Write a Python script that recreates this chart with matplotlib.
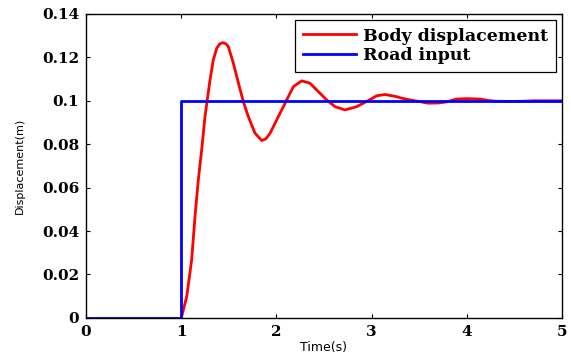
import matplotlib
matplotlib.use("Agg")
import matplotlib.pyplot as plt
from matplotlib.font_manager import FontProperties
from matplotlib.ticker import FuncFormatter

# Road input: unit step of 0.1 m at t = 1 s
road_t = [0, 1, 1, 5]
road_y = [0, 0, 0.1, 0.1]

# Body displacement
body_t = [1.00, 1.005, 1.058, 1.110, 1.145, 1.180, 1.215, 1.250, 1.274, 1.303,
          1.337, 1.373, 1.405, 1.436, 1.470, 1.495, 1.548, 1.611, 1.653, 1.705,
          1.775, 1.846, 1.890, 1.933, 2.003, 2.073, 2.108, 2.178, 2.266, 2.353,
          2.458, 2.528, 2.616, 2.721, 2.843, 2.965, 3.053, 3.141, 3.264, 3.316,
          3.403, 3.508, 3.596, 3.700, 3.790, 3.890, 4.000, 4.140, 4.230, 4.310,
          4.450, 4.590, 4.700, 5.00]
body_y = [0.0, 0.0006, 0.0098, 0.0267, 0.0467, 0.0636, 0.0774, 0.0927, 0.1004, 0.1096,
          0.1188, 0.1242, 0.1262, 0.1268, 0.1263, 0.1250, 0.1173, 0.1065, 0.0996, 0.0927,
          0.0851, 0.0817, 0.0825, 0.0850, 0.0912, 0.0973, 0.1004, 0.1065, 0.1092, 0.1081,
          0.1035, 0.1004, 0.0973, 0.0958, 0.0973, 0.1001, 0.1023, 0.1029, 0.1019, 0.1012,
          0.1004, 0.0996, 0.0989, 0.0990, 0.0995, 0.1008, 0.1010, 0.1008, 0.1001, 0.0998,
          0.0997, 0.0998, 0.1000, 0.1000]

xticks = [0, 1, 2, 3, 4, 5]
yticks = [0, 0.02, 0.04, 0.06, 0.08, 0.1, 0.12, 0.14]

tick_fp = FontProperties(family="DejaVu Serif", weight="bold", size=11)

fig = plt.figure(figsize=(5.71, 3.58), dpi=100)
ax = fig.add_axes([0.1506, 0.112, 0.8336, 0.849])

ax.plot(body_t, body_y, color="#ff0000", lw=2, label="Body displacement")
ax.plot(road_t, road_y, color="#0000ff", lw=2, label="Road input")

ax.set_xlim(0, 5)
ax.set_ylim(0, 0.14)
ax.set_xticks(xticks)
ax.set_yticks(yticks)
ax.yaxis.set_major_formatter(FuncFormatter(lambda v, p: f"{v:g}"))
ax.tick_params(direction="in", length=3, width=0.8, top=True, right=True, pad=5)
for lab in ax.get_xticklabels() + ax.get_yticklabels():
    lab.set_fontproperties(tick_fp)
for sp in ax.spines.values():
    sp.set_linewidth(1.0)

ax.set_xlabel("Time(s)", fontsize=9, family="DejaVu Sans")
ax.set_ylabel("Displacement(m)", fontsize=8, family="DejaVu Sans")
ax.xaxis.set_label_coords(0.5, -0.075)
ax.yaxis.set_label_coords(-0.128, 0.5)

leg = ax.legend(loc="upper right", bbox_to_anchor=(0.988, 0.981), borderaxespad=0,
                fancybox=False, framealpha=1, edgecolor="black", borderpad=0.45,
                handlelength=3.1, labelspacing=0.15, handletextpad=0.4,
                prop={"family": "DejaVu Serif", "weight": "bold", "size": 12.5})
leg.get_frame().set_linewidth(0.9)

fig.savefig("out.png", dpi=100)
